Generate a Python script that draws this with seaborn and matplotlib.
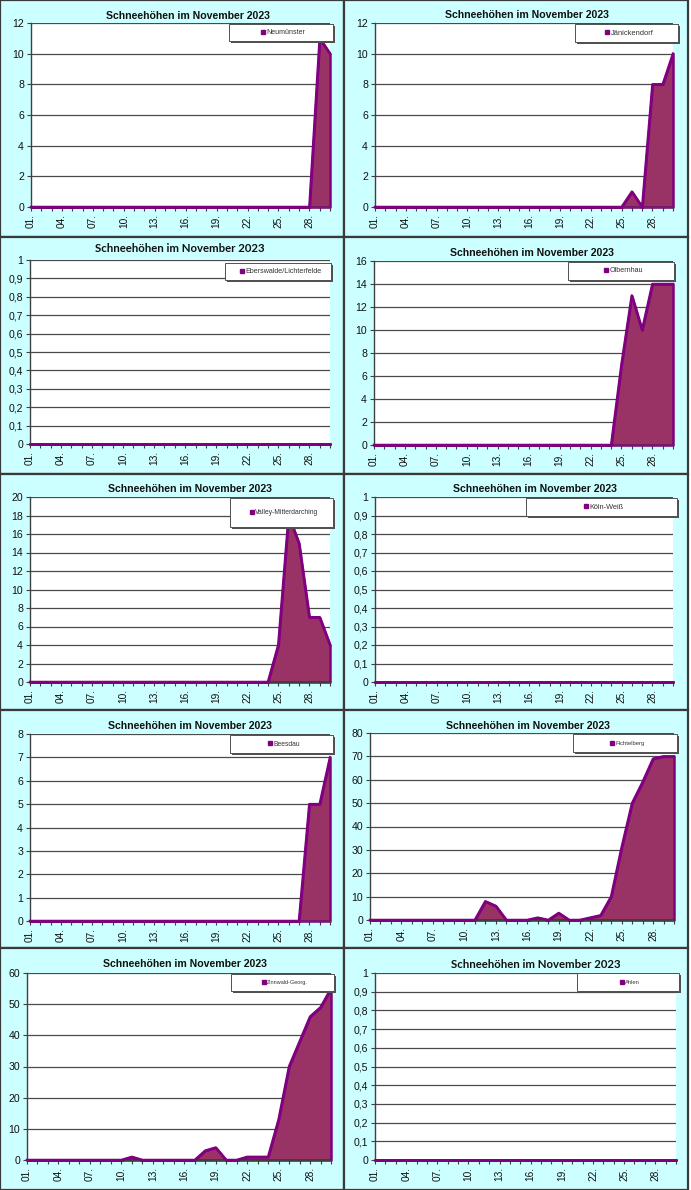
import numpy as np
import pandas as pd
import matplotlib
matplotlib.use("Agg")
import matplotlib.pyplot as plt
import seaborn as sns
from matplotlib.patches import Rectangle
from matplotlib.lines import Line2D

plt.rcParams['font.family'] = ['Liberation Sans', 'DejaVu Sans']

# ---------------- data ----------------
days = [f"{d:02d}." for d in range(1, 31)]
title_text = "Schneehöhen im November 2023"

stations = ["Neumünster", "Jänickendorf", "Eberswalde/Lichterfelde", "Olbernhau",
            "Valley-Mitterdarching", "Köln-Weiß", "Beesdau", "Fichtelberg",
            "Zinnwald-Georg.", "Ahlen"]

neumuenster = [0]*28 + [11, 10]
jaenickendorf = [0]*25 + [1, 0, 8, 8, 10]
eberswalde = [0]*30
olbernhau = [0]*24 + [7, 13, 10, 14, 14, 14]
valley = [0]*24 + [4, 18, 15, 7, 7, 4]
koeln = [0]*30
beesdau = [0]*27 + [5, 5, 7]
fichtelberg = [0]*11 + [8, 6, 0, 0, 0, 1, 0, 3, 0, 0, 1, 2, 10, 31, 50, 59, 69, 70, 70]
zinnwald = [0]*10 + [1, 0, 0, 0, 0, 0, 0, 3, 4, 0, 0, 1, 1, 1, 13, 30, 38, 46, 49, 55]
ahlen = [0]*30

series = [neumuenster, jaenickendorf, eberswalde, olbernhau, valley,
          koeln, beesdau, fichtelberg, zinnwald, ahlen]
y_max = [12, 12, 1, 16, 20, 1, 8, 80, 60, 1]
y_step = [2, 2, 0.1, 2, 2, 0.1, 1, 10, 10, 0.1]

# ---------------- layout (pixels) ----------------
W, H = 691, 1190
fig = plt.figure(figsize=(W/100, H/100), dpi=100, facecolor='white')

def fx(px):
    return px / W

def fy(py):
    return 1 - py / H

panel_rects = [(0, 0, 344, 237), (344, 0, 688, 237),
               (0, 237, 344, 474), (344, 237, 688, 474),
               (0, 474, 344, 710), (344, 474, 688, 710),
               (0, 710, 344, 948), (344, 710, 688, 948),
               (0, 948, 344, 1190), (344, 948, 688, 1190)]
axes_rects = [(31, 330, 23, 207), (375, 673, 23, 207),
              (30, 330, 260, 444), (374, 673, 261, 445),
              (30, 330, 497, 682), (375, 673, 497, 682),
              (30, 330, 734, 921), (370, 674, 733, 920),
              (27, 331, 973, 1160), (375, 676, 973, 1160)]
title_pos = [(188, 16), (527, 15), (180, 249), (532, 253), (190, 489),
             (535, 489), (190, 726), (528, 726), (185, 964), (536, 965)]
legend_boxes = [(229, 333, 24, 41), (575, 678, 24, 42),
                (225, 331, 263, 280), (568, 674, 262, 280),
                (230, 333, 498, 527), (526, 677, 498, 516),
                (230, 333, 735, 753), (573, 677, 734, 752),
                (231, 334, 974, 991), (577, 679, 973, 991)]
legend_fs = [5, 5.4, 5.1, 5.1, 4.9, 5.3, 4.9, 4.2, 4.0, 4.2]
title_family = [None, None, 'Lato', None, None, None, None, None, None, 'Lato']

FILL = '#993366'
LINE = '#800080'
AXC = '#404040'

for i in range(10):
    x0, y0, x1, y1 = panel_rects[i]
    fig.add_artist(Rectangle((fx(x0), fy(y1)), (x1 - x0) / W, (y1 - y0) / H,
                             transform=fig.transFigure, facecolor='#CCFFFF',
                             edgecolor='#3a3a3a', lw=1.6, zorder=-1))

    l, r, t, b = axes_rects[i]
    ax = fig.add_axes([fx(l), fy(b), (r - l) / W, (b - t) / H])
    ax.set_facecolor('white')

    vals = np.array(series[i], dtype=float)
    df = pd.DataFrame({"pos": np.arange(len(days)), "cm": vals})
    ax.fill_between(df["pos"], df["cm"], 0, facecolor=FILL, edgecolor=LINE,
                    lw=1.8, clip_on=False, zorder=2)
    sns.lineplot(data=df, x="pos", y="cm", ax=ax, color=LINE, lw=1.8,
                 clip_on=False, zorder=3)
    ax.set_xlabel("")
    ax.set_ylabel("")

    ax.set_xlim(0, len(days) - 1)
    ax.set_ylim(0, y_max[i])
    ax.set_xticks(np.arange(len(days)))
    ax.set_xticklabels([d if k % 3 == 0 else "" for k, d in enumerate(days)],
                       rotation=90)
    yt = np.round(np.arange(0, y_max[i] + y_step[i] / 2, y_step[i]), 1)
    ax.set_yticks(yt)
    ax.set_yticklabels([(f"{v:g}").replace(".", ",") for v in yt])

    ax.yaxis.grid(True, color='#4a4a4a', lw=0.9)
    ax.xaxis.grid(False)
    ax.set_axisbelow(True)
    for s in ['top', 'right']:
        ax.spines[s].set_visible(False)
    for s in ['left', 'bottom']:
        ax.spines[s].set_color(AXC)
        ax.spines[s].set_linewidth(1.0)
    ax.tick_params(axis='x', direction='out', length=3, width=0.8, color=AXC,
                   labelsize=7.3, pad=2, labelcolor='#111111')
    ax.tick_params(axis='y', direction='out', length=3, width=0.8, color=AXC,
                   labelsize=7.6, pad=2, labelcolor='#111111')

    cx, cy = title_pos[i]
    kw = {}
    if title_family[i]:
        kw['family'] = [title_family[i], 'Liberation Sans', 'DejaVu Sans']
    fig.text(fx(cx), fy(cy), title_text, ha='center', va='center',
             fontsize=7.6 if not title_family[i] else 8.2, fontweight='bold',
             color='#111111', **kw)

    # legend box with shadow
    lx0, lx1, ly0, ly1 = legend_boxes[i]
    fig.add_artist(Rectangle((fx(lx0 + 1.5), fy(ly1 + 1.5)), (lx1 - lx0) / W,
                             (ly1 - ly0) / H, transform=fig.transFigure,
                             facecolor='#505050', edgecolor='none', zorder=4))
    fig.add_artist(Rectangle((fx(lx0), fy(ly1)), (lx1 - lx0) / W,
                             (ly1 - ly0) / H, transform=fig.transFigure,
                             facecolor='white', edgecolor='#505050', lw=0.7,
                             zorder=4.5))
    handle = Line2D([], [], marker='s', color=LINE, ls='', markersize=3.3)
    leg = fig.legend(handles=[handle], labels=[stations[i]], loc='center',
                     bbox_to_anchor=(fx((lx0 + lx1) / 2 + 2), fy((ly0 + ly1) / 2)),
                     bbox_transform=fig.transFigure, frameon=False,
                     fontsize=legend_fs[i], handletextpad=0.1, handlelength=0.8,
                     borderpad=0, borderaxespad=0)
    leg.set_zorder(6)
    for txt in leg.get_texts():
        txt.set_color('#333333')

fig.savefig("out.png", dpi=100, facecolor='white')
